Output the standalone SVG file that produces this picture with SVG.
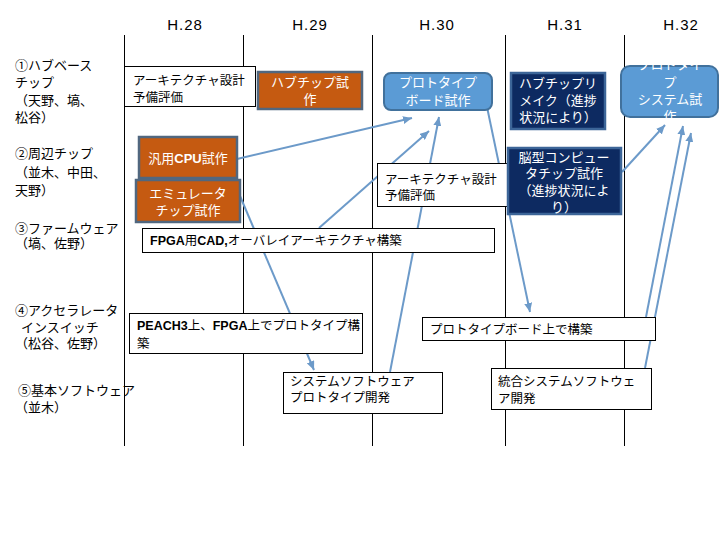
<svg xmlns="http://www.w3.org/2000/svg" width="720" height="540" viewBox="0 0 720 540">
<style>
text{font-family:"Noto Sans CJK JP","Liberation Sans",sans-serif;fill:#000}
.hdr{font-family:"Liberation Sans","Noto Sans CJK JP",sans-serif;font-size:15px;text-anchor:middle;letter-spacing:1px}
.lbl{font-size:13px}
.t{font-size:12.5px}
.w{font-size:13px;fill:#fff;text-anchor:middle}
.b{font-family:"Liberation Sans",sans-serif;font-weight:bold}
.grid{stroke:#000;stroke-width:1}
.wbox{fill:#fff;stroke:#000;stroke-width:1}
.obox{fill:#C55A11;stroke:#51677F;stroke-width:2.5}
.nbox{fill:#0D2A61;stroke:#3C6598;stroke-width:2.5}
.bbox{fill:#5B9BD5;stroke:#41719C;stroke-width:2}
.con{stroke:#6C9AC9;stroke-width:2;fill:none;marker-end:url(#ah)}
</style>
<defs>
<marker id="ah" markerUnits="userSpaceOnUse" markerWidth="9" markerHeight="8" refX="9" refY="4" orient="auto">
<path d="M0,0 L9,4 L0,8 z" fill="#6C9AC9"/>
</marker>
</defs>
<rect width="720" height="540" fill="#fff"/>
<g id="grid">
<line class="grid" x1="124.5" y1="35" x2="124.5" y2="446"/>
<line class="grid" x1="243.5" y1="35" x2="243.5" y2="446"/>
<line class="grid" x1="372.5" y1="35" x2="372.5" y2="446"/>
<line class="grid" x1="505.5" y1="35" x2="505.5" y2="446"/>
<line class="grid" x1="624.5" y1="35" x2="624.5" y2="446"/>
</g>
<g id="headers">
<text class="hdr" x="185" y="30">H.28</text>
<text class="hdr" x="310" y="30">H.29</text>
<text class="hdr" x="437" y="30">H.30</text>
<text class="hdr" x="565" y="30">H.31</text>
<text class="hdr" x="681" y="30">H.32</text>
</g>
<g id="rowlabels">
<text class="lbl" x="15" y="70">①ハブベース</text>
<text class="lbl" x="15" y="87">チップ</text>
<text class="lbl" x="15" y="105">（天野、塙、</text>
<text class="lbl" x="15" y="122">松谷）</text>
<text class="lbl" x="15" y="158">②周辺チップ</text>
<text class="lbl" x="15" y="177">（並木、中田、</text>
<text class="lbl" x="15" y="195">天野）</text>
<text class="lbl" x="15" y="233">③ファームウェア</text>
<text class="lbl" x="15" y="248">（塙、佐野）</text>
<text class="lbl" x="15" y="315">④アクセラレータ</text>
<text class="lbl" x="21" y="332">インスイッチ</text>
<text class="lbl" x="15" y="348">（松谷、佐野）</text>
<text class="lbl" x="18" y="395">⑤基本ソフトウェア</text>
<text class="lbl" x="15" y="412">（並木）</text>
</g>
<g id="connectors">
<line class="con" x1="237" y1="159" x2="412" y2="118"/>
<line class="con" x1="319" y1="228" x2="429" y2="131"/>
<line class="con" x1="390" y1="372" x2="439" y2="117"/>
<line class="con" x1="240" y1="196" x2="314" y2="370"/>
<line class="con" x1="487" y1="107" x2="530" y2="312"/>
<line class="con" x1="622" y1="172" x2="665" y2="125"/>
<line class="con" x1="646" y1="317" x2="683" y2="126"/>
<line class="con" x1="645" y1="368" x2="691" y2="133"/>
</g>
<g id="arch28">
<rect class="wbox" x="124.5" y="66.5" width="131" height="40"/>
<text class="t" x="133" y="85">アーキテクチャ設計</text>
<text class="t" x="133" y="102">予備評価</text>
</g>
<g id="hubchip">
<rect class="obox" x="258" y="72" width="104" height="37"/>
<text class="w" x="310" y="87">ハブチップ試</text>
<text class="w" x="310" y="104">作</text>
</g>
<g id="protoboard">
<rect class="bbox" x="384" y="73" width="108" height="37" rx="7"/>
<text class="w" x="438" y="87">プロトタイプ</text>
<text class="w" x="438" y="105">ボード試作</text>
</g>
<g id="hubremake">
<rect class="nbox" x="511" y="73" width="94" height="56"/>
<text class="w" x="558" y="88">ハブチップリ</text>
<text class="w" x="558" y="105">メイク（進捗</text>
<text class="w" x="558" y="122">状況により）</text>
</g>
<g id="protosystem">
<rect class="bbox" x="621" y="66" width="97" height="51" rx="9"/>
<text class="w" x="670" y="69">プロトタイ</text>
<text class="w" x="670" y="87">プ</text>
<text class="w" x="670" y="104">システム試</text>
<text class="w" x="670" y="121">作</text>
</g>
<g id="cpu">
<rect class="obox" x="139" y="137" width="98" height="41"/>
<text class="w" x="188" y="163">汎用<tspan class="b">CPU</tspan>試作</text>
</g>
<g id="emu">
<rect class="obox" x="136" y="180" width="104" height="42"/>
<text class="w" x="188" y="198">エミュレータ</text>
<text class="w" x="188" y="215">チップ試作</text>
</g>
<g id="fpgacad">
<rect class="wbox" x="142.5" y="228.5" width="352" height="24"/>
<text class="t" x="150" y="245"><tspan class="b">FPGA</tspan>用<tspan class="b">CAD,</tspan>オーバレイアーキテクチャ構築</text>
</g>
<g id="arch30">
<rect class="wbox" x="377.5" y="163.5" width="130" height="43"/>
<text class="t" x="385" y="184">アーキテクチャ設計</text>
<text class="t" x="385" y="200">予備評価</text>
</g>
<g id="brainchip">
<rect class="nbox" x="508" y="148" width="113" height="66"/>
<text class="w" x="564" y="162">脳型コンピュー</text>
<text class="w" x="564" y="178">タチップ試作</text>
<text class="w" x="564" y="195">（進捗状況によ</text>
<text class="w" x="564" y="212">り）</text>
</g>
<g id="peach">
<rect class="wbox" x="129.5" y="313.5" width="233" height="40"/>
<text class="t" x="137" y="330"><tspan class="b">PEACH3</tspan>上、<tspan class="b">FPGA</tspan>上でプロトタイプ構</text>
<text class="t" x="137" y="348">築</text>
</g>
<g id="syssoft">
<rect class="wbox" x="283.5" y="372.5" width="159" height="41"/>
<text class="t" x="290" y="386">システムソフトウェア</text>
<text class="t" x="290" y="402">プロトタイプ開発</text>
</g>
<g id="boardbuild">
<rect class="wbox" x="422.5" y="317.5" width="233" height="23"/>
<text class="t" x="430" y="334">プロトタイプボード上で構築</text>
</g>
<g id="intsoft">
<rect class="wbox" x="491.5" y="368.5" width="160" height="41"/>
<text class="t" x="498" y="386">統合システムソフトウェ</text>
<text class="t" x="498" y="403">ア開発</text>
</g>
</svg>
